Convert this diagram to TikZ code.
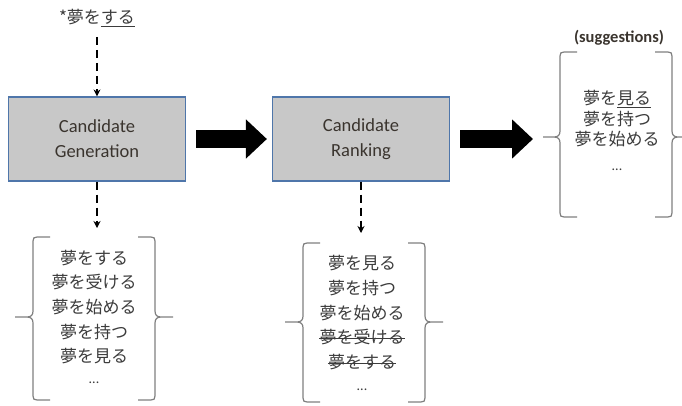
\documentclass[tikz,border=0pt]{standalone}
\usepackage{fontspec}
\setmainfont{Carlito}
\newfontfamily\jp{Noto Sans CJK JP}
\usetikzlibrary{arrows.meta}
\definecolor{boxfill}{HTML}{C8C8C8}
\definecolor{boxline}{HTML}{4F76AA}
\definecolor{bracecol}{HTML}{7F7F7F}
\definecolor{jtext}{HTML}{3C3C3C}
\definecolor{btext}{HTML}{3A342E}
\newcommand\mybrak[6]{%
 \draw[bracket] ({#2+#1*17},#3) -- ({#2+#1*4},#3) .. controls ({#2+#1*1},#3) and (#2,{#3+1}) .. (#2,{#3+4})
  -- (#2,{#5-6}) .. controls (#2,{#5-2}) and ({#2-#1*2},#5) .. ({#2-#1*6},#5) -- (#6,#5)
  ({#2-#1*6},#5) .. controls ({#2-#1*2},#5) and (#2,{#5+2}) .. (#2,{#5+6})
  -- (#2,{#4-4}) .. controls (#2,{#4-1}) and ({#2+#1*1},#4) .. ({#2+#1*4},#4) -- ({#2+#1*17},#4);}
\begin{document}
\begin{tikzpicture}[x=1pt,y=-1pt,
  stagebox/.style={draw=boxline,line width=1.2pt,fill=boxfill,minimum width=177pt,minimum height=84pt,inner sep=0pt,align=center,font=\fontsize{18.5}{25}\selectfont,text=btext},
  jline/.style={inner sep=0pt,font=\jp\fontsize{17}{20}\selectfont,text=jtext,anchor=center},
  dots/.style={inner sep=0pt,font=\fontsize{14}{16}\selectfont,text=jtext},
  dasharrow/.style={line width=1.8pt,dash pattern=on 8pt off 5pt,-{Stealth[length=7pt,width=7pt]}},
  bigarrow/.style={line width=18pt,-{Triangle[length=21pt,width=38pt]}},
  bracket/.style={draw=bracecol,line width=1.2pt},
  strike/.style={line width=1pt,draw=jtext}]
\useasboundingbox (0,0) rectangle (682,405);
% stages
\node[stagebox] (gen) at (97,139) {Candidate\\Generation};
\node[stagebox] (rank) at (361,139) {Candidate\\Ranking};
% query
\node[jline] (query) at (97,18) {*夢を\underline{する}};
\draw[dasharrow] ([yshift=-10pt]query.south) -- (gen.north);
% big arrows
\coordinate (sugtip) at (533,139);
\draw[bigarrow] ([xshift=10pt]gen.east) -- ([xshift=-5pt]rank.west);
\draw[bigarrow] ([xshift=10pt]rank.east) -- (sugtip);
% drops
\coordinate (gendrop) at (97,228);
\coordinate (rankdrop) at (361,233);
\draw[dasharrow] (gen.south) -- (gendrop);
\draw[dasharrow] (rank.south) -- (rankdrop);
% left list
\node[jline] (g1) at (94,258) {夢をする};
\node[jline] (g2) at (94,282) {夢を受ける};
\node[jline] (g3) at (94,307) {夢を始める};
\node[jline] (g4) at (94,332) {夢を持つ};
\node[jline] (g5) at (94,356) {夢を見る};
\node[dots] (g6) at (94,383) {...};
\mybrak{1}{33}{237}{400}{317}{15}
\mybrak{-1}{155}{237}{400}{317}{173}
% middle list
\node[jline] (r1) at (362,263) {夢を見る};
\node[jline] (r2) at (362,288) {夢を持つ};
\node[jline] (r3) at (362,313) {夢を始める};
\node[jline] (r4) at (362,337) {夢を受ける};
\node[jline] (r5) at (362,362) {夢をする};
\node[dots] (r6) at (362,390) {...};
\draw[strike] ([yshift=-1pt]r4.west) -- ([yshift=-1pt]r4.east);
\draw[strike] ([yshift=-1pt]r5.west) -- ([yshift=-1pt]r5.east);
\mybrak{1}{303}{243}{402}{322}{285}
\mybrak{-1}{425}{243}{402}{322}{443}
% right list
\node[font=\bfseries\fontsize{16.5}{18}\selectfont,text=btext,inner sep=0pt] (sugg) at (619,38) {(suggestions)};
\node[jline] (s1) at (617,99) {夢を\underline{見る}};
\node[jline] (s2) at (617,119) {夢を持つ};
\node[jline] (s3) at (617,139) {夢を始める};
\node[dots] (s4) at (617,170) {...};
\mybrak{1}{560}{52}{217}{137}{543}
\mybrak{-1}{672}{52}{217}{137}{682}
\end{tikzpicture}
\end{document}
